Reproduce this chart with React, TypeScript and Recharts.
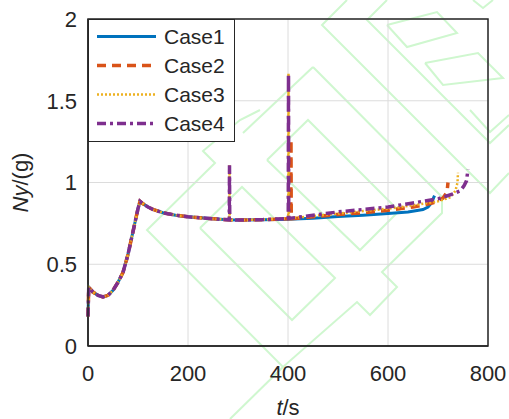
import React from 'react';
import { LineChart, Line, XAxis, YAxis, CartesianGrid, ReferenceArea } from 'recharts';

// time (s) and Ny (g) per case
const case1T = [0, 1.5, 10, 20, 30, 40, 50, 60, 70, 80, 90, 100, 104, 110, 120, 130, 150, 175, 200, 250, 280, 300, 350, 400, 450, 500, 550, 600, 640, 670, 680, 687, 693];
const case1V = [0.18, 0.36, 0.33, 0.31, 0.3, 0.31, 0.34, 0.39, 0.45, 0.56, 0.7, 0.84, 0.885, 0.87, 0.85, 0.835, 0.815, 0.8, 0.79, 0.778, 0.772, 0.77, 0.772, 0.775, 0.782, 0.792, 0.8, 0.81, 0.82, 0.835, 0.85, 0.875, 0.92];

const case2T = [0, 1.5, 10, 20, 30, 40, 50, 60, 70, 80, 90, 100, 104, 110, 120, 130, 150, 175, 200, 250, 280, 300, 350, 400, 405.5, 406, 406.5, 450, 500, 550, 600, 650, 690, 710, 718, 720];
const case2V = [0.18, 0.36, 0.33, 0.31, 0.3, 0.31, 0.34, 0.39, 0.45, 0.56, 0.7, 0.84, 0.885, 0.87, 0.85, 0.835, 0.815, 0.8, 0.79, 0.778, 0.772, 0.77, 0.773, 0.778, 0.778, 1.26, 0.778, 0.79, 0.805, 0.815, 0.83, 0.85, 0.875, 0.905, 0.94, 1.0];

const case3T = [0, 1.5, 10, 20, 30, 40, 50, 60, 70, 80, 90, 100, 104, 110, 120, 130, 150, 175, 200, 250, 282.5, 283, 283.5, 300, 350, 400, 400.5, 401, 401.5, 450, 500, 550, 600, 650, 700, 725, 735, 739, 740];
const case3V = [0.18, 0.36, 0.33, 0.31, 0.3, 0.31, 0.34, 0.39, 0.45, 0.56, 0.7, 0.84, 0.885, 0.87, 0.85, 0.835, 0.815, 0.8, 0.79, 0.778, 0.772, 1.105, 0.772, 0.77, 0.773, 0.78, 0.78, 1.665, 0.78, 0.795, 0.81, 0.825, 0.84, 0.86, 0.885, 0.91, 0.95, 1.0, 1.06];

const case4T = [0, 1.5, 10, 20, 30, 40, 50, 60, 70, 80, 90, 100, 104, 110, 120, 130, 150, 175, 200, 250, 282.5, 283, 283.5, 300, 350, 400, 400.5, 401, 401.5, 450, 500, 550, 600, 650, 700, 730, 745, 752, 757, 760];
const case4V = [0.18, 0.36, 0.33, 0.31, 0.3, 0.31, 0.34, 0.39, 0.45, 0.56, 0.7, 0.84, 0.885, 0.87, 0.85, 0.835, 0.815, 0.8, 0.79, 0.778, 0.772, 1.105, 0.772, 0.77, 0.773, 0.78, 0.78, 1.665, 0.78, 0.8, 0.82, 0.835, 0.85, 0.875, 0.9, 0.93, 0.95, 0.98, 1.01, 1.08];

const caseNames = ['Case1', 'Case2', 'Case3', 'Case4'];
const xTicks = [0, 200, 400, 600, 800];
const yTicks = [0, 0.5, 1, 1.5, 2];

const toPoints = (ts: number[], vs: number[]) => ts.map((t, i) => ({ t, v: vs[i] }));

const series = [
  { name: caseNames[0], data: toPoints(case1T, case1V), color: '#0072BD', dash: undefined, width: 3 },
  { name: caseNames[1], data: toPoints(case2T, case2V), color: '#D95319', dash: '9 6', width: 3.5 },
  { name: caseNames[2], data: toPoints(case3T, case3V), color: '#EDB120', dash: '2 2', width: 2.5 },
  { name: caseNames[3], data: toPoints(case4T, case4V), color: '#7E2F8E', dash: '9 4 3 4', width: 3.5 },
];

const FONT = '"Liberation Sans", Arial, sans-serif';
const INK = '#262626';

// light green background pattern (decoration only)
const watermark = [
  // upper right group
  '347,0 322,25 490,193 509,173',
  '387,0 367,20 490,143 509,125',
  '387,25 407,47 457,33 437,12 387,25',
  '425,63 443,85 503,78 478,53 425,63',
  '470,110 490,132 509,115',
  '473,0 483,8 493,0',
  // middle diamonds
  '313,67 243,133',
  '313,67 442,197 442,213 382,272 397,287 370,315 357,302 283,367 147,230 215,163 203,151 240,120 260,110',
  '267,160 308,120 399,211 360,250 267,160',
  '200,228 242,187 335,278 292,320 200,228',
  '283,367 230,419',
];

function XLabel(props: any) {
  const vb = props.viewBox || { x: 88, y: 346, width: 400, height: 50 };
  return (
    <text x={vb.x + vb.width / 2} y={415} textAnchor="middle" fontSize={22} fill={INK} fontFamily={FONT}>
      <tspan fontStyle="italic">t</tspan>/s
    </text>
  );
}

function YLabel(props: any) {
  const vb = props.viewBox || { x: 0, y: 19, width: 88, height: 327 };
  const cy = vb.y + vb.height / 2;
  return (
    <text x={28} y={cy} transform={`rotate(-90 28 ${cy})`} textAnchor="middle" fontSize={22} fill={INK} fontFamily={FONT}>
      <tspan fontStyle="italic">Ny</tspan>/(g)
    </text>
  );
}

export default function App() {
  return (
    <div style={{ position: 'fixed', left: 0, top: 0, width: 509, height: 419, background: '#fff' }}>
      <svg width={509} height={419} style={{ position: 'absolute', left: 0, top: 0 }}>
        {watermark.map((p, i) => (
          <polyline key={i} points={p} fill="none" stroke="#cff7cf" strokeWidth={2} />
        ))}
      </svg>
      <div style={{ position: 'absolute', left: 0, top: 0 }}>
        <LineChart width={509} height={419} margin={{ top: 19, right: 21, bottom: 23, left: 0 }}>
          <CartesianGrid stroke="#dcdcdc" strokeWidth={1} />
          <XAxis
            type="number"
            dataKey="t"
            domain={[0, 800]}
            ticks={xTicks}
            height={50}
            tickSize={0}
            tickMargin={19}
            axisLine={{ stroke: INK, strokeWidth: 1.5 }}
            tick={{ fontSize: 22, fill: INK, fontFamily: FONT }}
            label={<XLabel />}
            allowDuplicatedCategory={false}
          />
          <YAxis
            type="number"
            dataKey="v"
            domain={[0, 2]}
            ticks={yTicks}
            width={88}
            tickSize={0}
            tickMargin={11}
            axisLine={{ stroke: INK, strokeWidth: 1.5 }}
            tick={{ fontSize: 22, fill: INK, fontFamily: FONT }}
            label={<YLabel />}
          />
          <ReferenceArea x1={0} x2={800} y1={0} y2={2} fill="none" stroke={INK} strokeWidth={1.5} />
          {series.map((s) => (
            <Line
              key={s.name}
              data={s.data}
              dataKey="v"
              name={s.name}
              type="linear"
              stroke={s.color}
              strokeWidth={s.width}
              strokeDasharray={s.dash}
              dot={false}
              activeDot={false}
              isAnimationActive={false}
            />
          ))}
        </LineChart>
      </div>
      <div
        style={{
          position: 'absolute',
          left: 88,
          top: 19,
          width: 145,
          height: 121,
          border: `1px solid ${INK}`,
          background: '#fff',
          fontFamily: FONT,
          fontSize: 21,
          color: INK,
        }}
      >
        {series.map((s, i) => (
          <div key={s.name} style={{ position: 'absolute', left: 0, top: 1.5 + i * 29.3, height: 29, display: 'flex', alignItems: 'center' }}>
            <svg width={75} height={29} style={{ display: 'block' }}>
              <line x1={8} x2={67} y1={14.5} y2={14.5} stroke={s.color} strokeWidth={s.width} strokeDasharray={s.dash} />
            </svg>
            <span style={{ lineHeight: '29px' }}>{s.name}</span>
          </div>
        ))}
      </div>
    </div>
  );
}
